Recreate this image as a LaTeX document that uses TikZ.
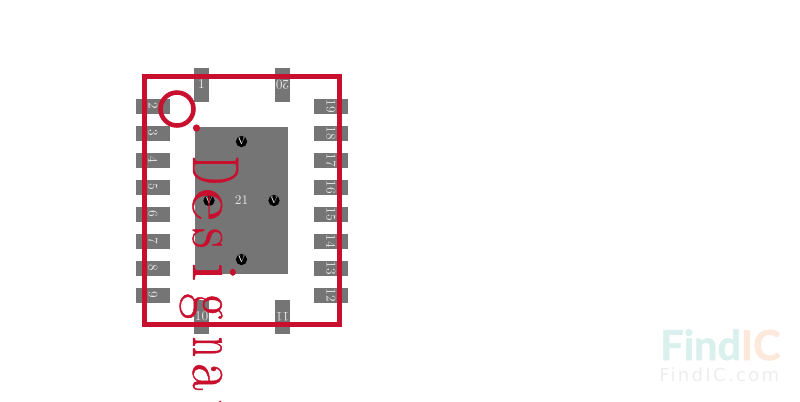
\documentclass[tikz,border=0pt]{standalone}
\usepackage{fontspec}
\usepackage{graphicx}
\usetikzlibrary{shapes.geometric}
\newfontfamily\logofont{Lato}[BoldFont={Lato Bold}, BoldFeatures={FakeBold=1.5}]
\newfontfamily\siteFont[LetterSpace=13]{DejaVu Sans}
\newfontfamily\refFont[FakeBold=0.7]{Latin Modern Roman}
\definecolor{padgray}{HTML}{757575}
\definecolor{silkred}{HTML}{C8102E}
\newcommand{\refchar}[2]{\makebox[25.5pt][c]{\scalebox{#1}[1]{#2}}}
\tikzstyle{pad} = [rectangle, fill=padgray, text=white!90!black, inner sep=0pt, outer sep=0pt, minimum width=11.25pt, minimum height=25.5pt, font=\fontsize{10}{10}\selectfont]
\tikzstyle{sidepad} = [pad, rotate=-90]
\tikzstyle{toppad} = [pad, rotate=180]
\tikzstyle{via} = [circle, fill=black, text=white, inner sep=0pt, minimum size=8.5pt, font=\fontsize{7}{7}\selectfont]
\tikzstyle{dot} = [circle, fill=silkred, inner sep=0pt, minimum size=5.4pt]

\begin{document}
\begin{tikzpicture}[x=0.75pt, y=-0.75pt, node distance=20.25pt]
   \useasboundingbox (0,0) rectangle (800,401);

   \node (pad2) at (153,106) [sidepad] {2};
   \node (pad3) [below of=pad2, sidepad] {3};
   \node (pad4) [below of=pad3, sidepad] {4};
   \node (pad5) [below of=pad4, sidepad] {5};
   \node (pad6) [below of=pad5, sidepad] {6};
   \node (pad7) [below of=pad6, sidepad] {7};
   \node (pad8) [below of=pad7, sidepad] {8};
   \node (pad9) [below of=pad8, sidepad] {9};

   \node (pad19) at (331,106) [sidepad] {19};
   \node (pad18) [below of=pad19, sidepad] {18};
   \node (pad17) [below of=pad18, sidepad] {17};
   \node (pad16) [below of=pad17, sidepad] {16};
   \node (pad15) [below of=pad16, sidepad] {15};
   \node (pad14) [below of=pad15, sidepad] {14};
   \node (pad13) [below of=pad14, sidepad] {13};
   \node (pad12) [below of=pad13, sidepad] {12};

   \node (pad1) at (201.5,84.5) [pad] {1};
   \node (pad20) at (282.5,84.5) [toppad] {20};
   \node (pad10) at (201.5,316.5) [pad] {10};
   \node (pad11) at (282.5,316.5) [toppad] {11};

   \node (pad21) at (241.5,200.5) [pad, minimum width=69.75pt, minimum height=110.25pt] {21};

   \node (via1) at (241.5,141.5) [via] {V};
   \node (via2) at (209,200.5) [via] {V};
   \node (via3) at (274,200.5) [via] {V};
   \node (via4) at (241.5,259.5) [via] {V};

   \node (outline) at (242,200.5) [rectangle, draw=silkred, line width=3.4pt, minimum width=146.25pt, minimum height=186pt] {};
   \node (pinone) at (177,109) [circle, draw=silkred, line width=3.4pt, inner sep=0pt, minimum size=24.75pt] {};
   \node (dot1) at (196.5,128) [dot] {};

   \node (refdes) at (193,153) [rotate=-90, anchor=base west, inner sep=0pt, text=silkred, font=\refFont\fontsize{49.5}{49.5}\selectfont] {\refchar{.62}{D}\refchar{1.2}{e}\refchar{.85}{s}\refchar{1.2}{i}\refchar{.85}{g}\kern5pt\refchar{.6}{n}\kern-3pt\refchar{.9}{a}\refchar{.9}{t}\refchar{.9}{o}\refchar{.9}{r}};

   \node (logo) at (660,360) [anchor=base west, inner sep=0pt, font=\logofont\bfseries\fontsize{31}{31}\selectfont] {\textcolor[HTML]{DAF0EC}{Find}\textcolor[HTML]{FCE9DC}{IC}};
   \node (site) at (659,381) [anchor=base west, inner sep=0pt, text=black!7, font=\siteFont\fontsize{13.5}{13.5}\selectfont] {FindIC.com};
\end{tikzpicture}
\end{document}
